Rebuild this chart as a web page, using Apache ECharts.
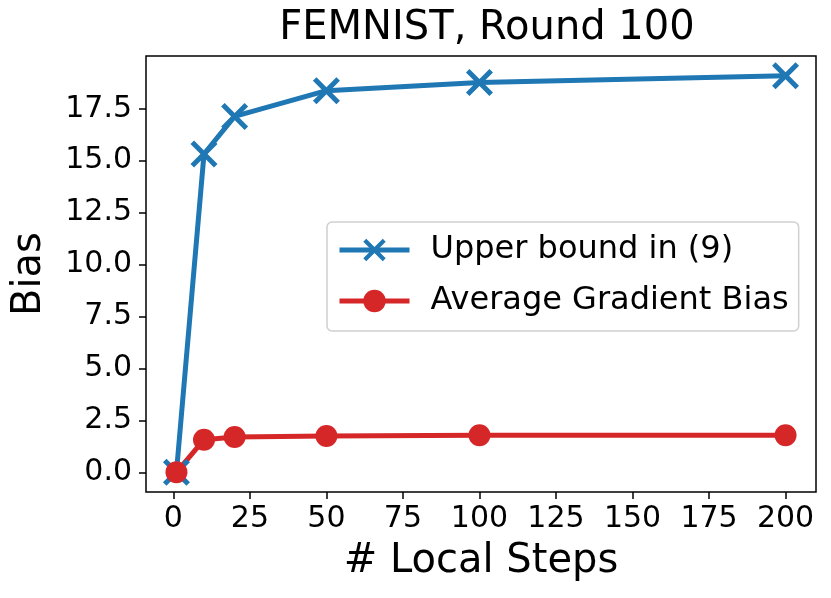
<!DOCTYPE html>
<html>
<head>
<meta charset="utf-8">
<script src="https://cdn.jsdelivr.net/npm/echarts@6/dist/echarts.min.js"></script>
<style>
  html, body { margin: 0; padding: 0; background: #ffffff; }
  #chart { width: 831px; height: 598px; }
</style>
</head>
<body>
<div id="chart"></div>
<script>
// data
var localSteps = [1, 10, 20, 50, 100, 200];
var upperBound = [0, 15.32, 17.13, 18.37, 18.76, 19.09];
var avgGradBias = [0, 1.57, 1.70, 1.75, 1.78, 1.78];
var xTicks = [0, 25, 50, 75, 100, 125, 150, 175, 200];
var yTicks = [0, 2.5, 5, 7.5, 10, 12.5, 15, 17.5];

// matplotlib style 'x' marker
var crossPath = 'path://M86.9,100L100,86.9L63.1,50L100,13.1L86.9,0L50,36.9L13.1,0L0,13.1L36.9,50L0,86.9L13.1,100L50,63.1Z';
var font = 'DejaVu Sans';

function pairs(xs, ys) {
  return xs.map(function (x, i) { return [x, ys[i]]; });
}

var chart = echarts.init(document.getElementById('chart'));
chart.setOption({
  backgroundColor: '#ffffff',
  animation: false,
  title: {
    text: 'FEMNIST, Round 100',
    left: 482,
    top: 4,
    textAlign: 'center',
    textStyle: { fontFamily: font, fontSize: 40, fontWeight: 'normal', color: '#000' }
  },
  grid: {
    left: 146, right: 15, top: 56, bottom: 106,
    show: true, borderColor: '#000', borderWidth: 1.5, backgroundColor: 'transparent'
  },
  legend: {
    left: 327, top: 222,
    orient: 'vertical',
    itemWidth: 70, itemHeight: 28, itemGap: 19,
    padding: [12, 10, 14, 10],
    borderColor: '#d0d0d0', borderWidth: 1.5, borderRadius: 5,
    backgroundColor: 'rgba(255,255,255,0.8)',
    lineStyle: { width: 5 },
    textStyle: { fontFamily: font, fontSize: 32, color: '#000', lineHeight: 28, padding: [0, 0, 0, 16] },
    data: ['Upper bound in (9)', 'Average Gradient Bias']
  },
  xAxis: {
    type: 'value',
    min: -8.95, max: 209.95,
    name: '# Local Steps',
    nameLocation: 'middle',
    nameGap: 50,
    nameTextStyle: { fontFamily: font, fontSize: 40, color: '#000' },
    axisLine: { show: false, onZero: false },
    splitLine: { show: false },
    axisTick: { show: true, length: 7, inside: false, customValues: xTicks, lineStyle: { color: '#000', width: 1.5 } },
    axisLabel: { customValues: xTicks, margin: 12, fontFamily: font, fontSize: 30, color: '#000' }
  },
  yAxis: {
    type: 'value',
    min: -0.95, max: 20.04,
    name: 'Bias',
    nameLocation: 'middle',
    nameGap: 96,
    nameTextStyle: { fontFamily: font, fontSize: 40, color: '#000' },
    axisLine: { show: false, onZero: false },
    splitLine: { show: false },
    axisTick: { show: true, length: 7, inside: false, customValues: yTicks, lineStyle: { color: '#000', width: 1.5 } },
    axisLabel: {
      customValues: yTicks, margin: 14, fontFamily: font, fontSize: 30, color: '#000',
      formatter: function (v) { return v.toFixed(1); }
    }
  },
  series: [
    {
      name: 'Upper bound in (9)',
      type: 'line',
      data: pairs(localSteps, upperBound),
      symbol: crossPath,
      symbolSize: 27,
      showAllSymbol: true,
      lineStyle: { color: '#1f77b4', width: 5 },
      itemStyle: { color: '#1f77b4' }
    },
    {
      name: 'Average Gradient Bias',
      type: 'line',
      data: pairs(localSteps, avgGradBias),
      symbol: 'circle',
      symbolSize: 22,
      showAllSymbol: true,
      lineStyle: { color: '#d62728', width: 5 },
      itemStyle: { color: '#d62728' }
    }
  ]
});
</script>
</body>
</html>
